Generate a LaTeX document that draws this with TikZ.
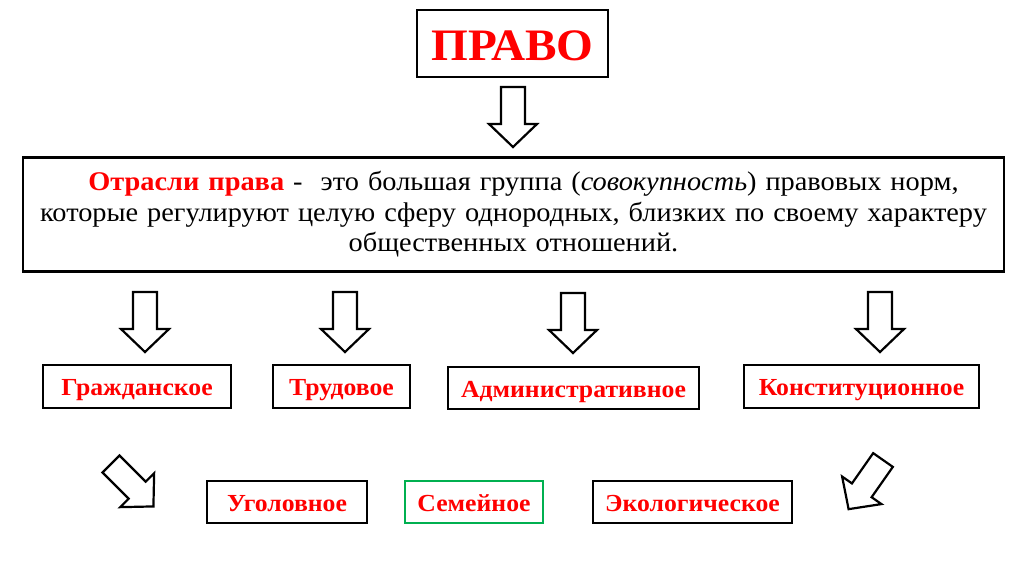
\documentclass[tikz,border=0pt]{standalone}
\usepackage{fontspec}
\setmainfont[FakeStretch=1.05]{Liberation Serif}
\definecolor{pgreen}{RGB}{0,176,80}
\definecolor{pred}{RGB}{255,0,0}
\tikzset{
  x=1pt, y=-1pt,
  lbox/.style={draw=black, line width=2.4pt, inner sep=0pt, text=pred,
    text height=18pt, text depth=0pt,
    font=\bfseries\fontsize{24.5}{28}\selectfont},
  blockarrow/.pic={
    \draw[line width=2.2pt, line join=miter, fill=white]
      (-12,0) -- (12,0) -- (12,37) -- (24,37) -- (0,60) -- (-24,37) -- (-12,37) -- cycle;
  }
}
\begin{document}
\begin{tikzpicture}
\useasboundingbox (0,0) rectangle (1024,574);
% top
\node[lbox, line width=2.8pt, minimum width=191pt, minimum height=67pt,
  text height=33pt, font=\bfseries\fontsize{45}{50}\selectfont] (pravo) at (512.5,43.5) {ПРАВО};
\pic at (513,87) {blockarrow};
% definition
\node[draw, line width=2.8pt, minimum width=981pt, minimum height=114pt,
  inner sep=0pt, text width=975pt, align=center,
  font=\fontsize{27}{30.5}\selectfont] (def) at (513.5,214.5)
  {\hspace*{20pt}\textcolor{pred}{\textbf{Отрасли права}} -\ \ это большая группа (\textit{совокупность}) правовых норм,\\
   которые регулируют целую сферу однородных, близких по своему характеру\\
   общественных отношений.};
% second row arrows
\pic at (145,292) {blockarrow};
\pic at (345,292) {blockarrow};
\pic at (573,293) {blockarrow};
\pic at (880,292) {blockarrow};
% second row boxes
\node[lbox, minimum width=188pt, minimum height=43pt] (civ) at (137,386.5) {Гражданское};
\node[lbox, minimum width=137pt, minimum height=43pt] (lab) at (341.5,386.5) {Трудовое};
\node[lbox, minimum width=251pt, minimum height=42pt] (adm) at (573.5,388) {Административное};
\node[lbox, minimum width=235pt, minimum height=43pt] (con) at (861.5,386.5) {Конституционное};
% diagonal arrows
\pic[rotate=45] at (111,464) {blockarrow};
\pic[rotate=-35] at (883,460) {blockarrow};
% third row boxes
\node[lbox, minimum width=160pt, minimum height=42pt] (crim) at (287,502) {Уголовное};
\node[lbox, draw=pgreen, minimum width=138pt, minimum height=42pt] (fam) at (474,502) {Семейное};
\node[lbox, minimum width=199pt, minimum height=42pt] (eco) at (692.5,502) {Экологическое};
\end{tikzpicture}
\end{document}
